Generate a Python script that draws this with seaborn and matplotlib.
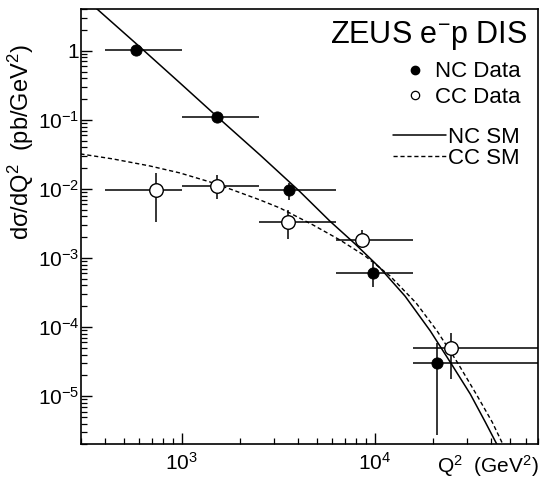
import numpy as np
import pandas as pd
import matplotlib
matplotlib.use("Agg")
import matplotlib.pyplot as plt
import seaborn as sns
from matplotlib.ticker import LogLocator, FixedLocator, FixedFormatter, NullFormatter
from matplotlib.lines import Line2D

sns.set_theme(style="ticks")
plt.rcParams['font.family'] = ['Liberation Sans', 'DejaVu Sans']
plt.rcParams['mathtext.fontset'] = 'custom'
plt.rcParams['mathtext.rm'] = 'Liberation Sans'
plt.rcParams['mathtext.it'] = 'Liberation Sans:italic'
plt.rcParams['text.color'] = 'black'
plt.rcParams['axes.labelcolor'] = 'black'
plt.rcParams['xtick.color'] = 'black'
plt.rcParams['ytick.color'] = 'black'

# Q2 bins (GeV^2)
bin_lo = [400, 1000, 2500, 6250, 15625]
bin_hi = [1000, 2500, 6250, 15625, 100000]

# NC data (pb/GeV^2)
nc_q2 = [578, 1530, 3600, 9730, 20900]
nc_val = [1.03, 0.11, 0.0097, 6.1e-4, 3.0e-5]
nc_hi = [1.03, 0.11, 0.0122, 8.4e-4, 5.8e-5]
nc_lo = [1.03, 0.11, 0.0068, 3.76e-4, 2.7e-6]

# CC data
cc_q2 = [740, 1530, 3530, 8540, 24800]
cc_val = [0.0097, 0.0112, 3.36e-3, 1.82e-3, 4.9e-5]
cc_hi = [0.0172, 0.016, 4.96e-3, 2.55e-3, 8.1e-5]
cc_lo = [0.0033, 0.0072, 1.87e-3, 1.6e-3, 1.8e-5]

# Standard Model curves
nc_sm_q2 = [363, 606, 976, 1570, 2540, 4090, 5850, 7880, 10600, 14300,
            19300, 24500, 31100, 37200, 42900]
nc_sm_val = [4.06, 1.14, 0.344, 0.103, 0.031, 0.0091, 3.4e-3, 1.6e-3, 7.2e-4,
             2.8e-4, 8.8e-5, 3.1e-5, 1.07e-5, 4.2e-6, 1.95e-6]
cc_sm_q2 = [299, 439, 683, 976, 1397, 1773, 2536, 3219, 4774, 6588, 8877,
            11960, 16310, 20950, 26600, 33370, 40390, 46050]
cc_sm_val = [0.0321, 0.0272, 0.0215, 0.01705, 0.01263, 0.0100, 6.93e-3, 5.30e-3,
             3.01e-3, 1.82e-3, 1.07e-3, 5.48e-4, 2.23e-4, 8.75e-5, 3.11e-5,
             1.07e-5, 4.2e-6, 1.95e-6]

ytick_vals = [1, 1e-1, 1e-2, 1e-3, 1e-4, 1e-5]
ytick_text = ['1', '$10^{-1}$', '$10^{-2}$', '$10^{-3}$', '$10^{-4}$', '$10^{-5}$']
xtick_vals = [1e3, 1e4]
xtick_text = ['$10^{3}$', '$10^{4}$']

nc = pd.DataFrame({'q2': nc_q2, 'val': nc_val})
cc = pd.DataFrame({'q2': cc_q2, 'val': cc_val})
nc_sm = pd.DataFrame({'q2': nc_sm_q2, 'val': nc_sm_val})
cc_sm = pd.DataFrame({'q2': cc_sm_q2, 'val': cc_sm_val})

fig = plt.figure(figsize=(5.45, 4.8), dpi=100)
ax = fig.add_axes([0.148, 0.074, 0.840, 0.907])
ax.set_xscale('log')
ax.set_yscale('log')

# SM curves
sns.lineplot(data=nc_sm, x='q2', y='val', ax=ax, color='black', linewidth=1.1,
             sort=False, estimator=None)
sns.lineplot(data=cc_sm, x='q2', y='val', ax=ax, color='black', linewidth=1.0,
             sort=False, estimator=None, linestyle=(0, (3, 2)))

# error bars
for df, hi, lo in [(nc, nc_hi, nc_lo), (cc, cc_hi, cc_lo)]:
    xerr = [df['q2'] - np.array(bin_lo), np.array(bin_hi) - df['q2']]
    yerr = [df['val'] - np.array(lo), np.array(hi) - df['val']]
    ax.errorbar(df['q2'], df['val'], xerr=xerr, yerr=yerr, fmt='none',
                ecolor='black', elinewidth=1.1, capsize=0, zorder=3)

sns.scatterplot(data=nc, x='q2', y='val', ax=ax, color='black', edgecolor='black',
                s=65, zorder=4)
sns.scatterplot(data=cc, x='q2', y='val', ax=ax, color='white', edgecolor='black',
                linewidth=1.0, s=95, zorder=4)

ax.set_xlim(300, 7e4)
ax.set_ylim(2e-6, 4)

ax.xaxis.set_major_locator(FixedLocator(xtick_vals))
ax.xaxis.set_major_formatter(FixedFormatter(xtick_text))
ax.xaxis.set_minor_locator(LogLocator(base=10, subs=np.arange(2, 10)))
ax.xaxis.set_minor_formatter(NullFormatter())
ax.yaxis.set_major_locator(FixedLocator(ytick_vals))
ax.yaxis.set_major_formatter(FixedFormatter(ytick_text))
ax.yaxis.set_minor_locator(LogLocator(base=10, subs=np.arange(2, 10), numticks=20))
ax.yaxis.set_minor_formatter(NullFormatter())

ax.tick_params(which='both', direction='in', top=False, right=False, color='black')
ax.tick_params(which='major', length=8, width=1.0, labelsize=15)
ax.tick_params(axis='y', which='major', pad=1)
ax.tick_params(axis='x', which='major', pad=5)
ax.tick_params(which='minor', length=4, width=0.9)
for sp in ax.spines.values():
    sp.set_color('black')
    sp.set_linewidth(1.2)

ax.set_xlabel('')
ax.set_ylabel('dσ/dQ$^{2}$  (pb/GeV$^{2}$)', fontsize=17)
ax.yaxis.set_label_coords(-0.098, 0.694)
ax.text(1.0, -0.05, 'Q$^{2}$  (GeV$^{2}$)', transform=ax.transAxes,
        ha='right', va='center', fontsize=15)

ax.text(0.975, 0.94, 'ZEUS e$^{-}$p DIS', transform=ax.transAxes,
        ha='right', va='center', fontsize=22)

data_handles = [
    Line2D([], [], linestyle='none', marker='o', markersize=6,
           markerfacecolor='black', markeredgecolor='black'),
    Line2D([], [], linestyle='none', marker='o', markersize=6,
           markerfacecolor='white', markeredgecolor='black', markeredgewidth=0.9),
]
leg1 = ax.legend(data_handles, ['NC Data', 'CC Data'], loc='upper right',
                 bbox_to_anchor=(0.96, 0.88), frameon=False, fontsize=16,
                 handlelength=1.0, handletextpad=0.4, labelspacing=0.2,
                 borderaxespad=0, borderpad=0)
ax.add_artist(leg1)
sm_handles = [
    Line2D([], [], color='black', linewidth=1.1),
    Line2D([], [], color='black', linewidth=1.0, linestyle=(0, (3, 2))),
]
ax.legend(sm_handles, ['NC SM', 'CC SM'], loc='upper right',
          bbox_to_anchor=(0.96, 0.73), frameon=False, fontsize=16,
          handlelength=2.4, handletextpad=0.1, labelspacing=0.0,
          borderaxespad=0, borderpad=0)

fig.savefig('out.png', dpi=100)
